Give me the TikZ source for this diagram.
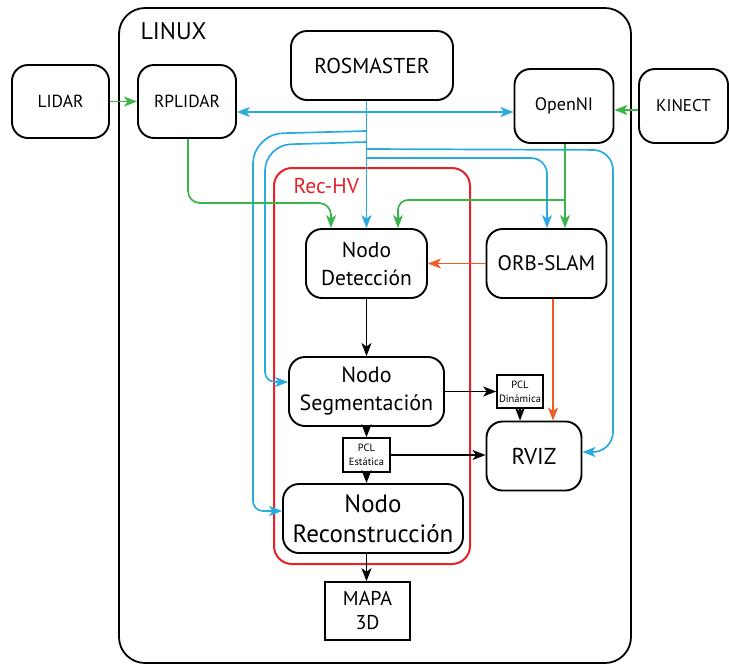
\documentclass[tikz,border=0pt]{standalone}
\usepackage{fontspec}
\setmainfont{PT Sans}
\usetikzlibrary{arrows.meta,calc}
\definecolor{cblue}{RGB}{41,171,226}
\definecolor{cgreen}{RGB}{57,181,74}
\definecolor{corange}{RGB}{241,90,36}
\definecolor{cred}{RGB}{226,35,40}
\begin{document}
\begin{tikzpicture}[x=1pt,y=-1pt,
  box/.style={draw,line width=1.9pt,rounded corners=16pt,align=center,inner sep=0pt},
  sqbox/.style={draw,line width=1.6pt,align=center,inner sep=0pt},
  conn/.style={line width=1.7pt,-{Stealth[length=13pt,width=10pt,inset=3.5pt]}},
  bconn/.style={conn,cblue},
  gconn/.style={conn,cgreen},
  oconn/.style={conn,corange},
  kconn/.style={conn,black}]
\useasboundingbox (0,0) rectangle (729,665);
% containers
\draw[line width=1.8pt,rounded corners=26pt] (119,8) rectangle (631,663);
\node[anchor=west,font=\fontsize{24}{28}\selectfont] (linux) at (137,31) {LINUX};
\draw[cred,line width=2pt,rounded corners=18pt] (274,168) rectangle (470,564);
\node[anchor=west,text=cred,font=\fontsize{21.5}{24}\selectfont] (rechv) at (290,186) {Rec-HV};
% nodes
\node[box,minimum width=97pt,minimum height=73pt,font=\fontsize{17.5}{20}\selectfont] (lidar) at (60.5,101.5) {LIDAR};
\node[box,minimum width=98pt,minimum height=73pt,font=\fontsize{17.5}{20}\selectfont] (rp) at (187,101.5) {RPLIDAR};
\node[box,minimum width=162pt,minimum height=69pt,font=\fontsize{21.5}{24}\selectfont] (ros) at (372,65.5) {ROSMASTER};
\node[box,minimum width=99pt,minimum height=74pt,font=\fontsize{18}{20}\selectfont] (oni) at (564,106) {OpenNI};
\node[box,minimum width=89pt,minimum height=74pt,font=\fontsize{17}{20}\selectfont] (kin) at (683.5,106) {KINECT};
\node[box,minimum width=121pt,minimum height=69pt,font=\fontsize{21.5}{28}\selectfont] (det) at (366.5,263.5) {Nodo\\Detección};
\node[box,minimum width=120pt,minimum height=69pt,font=\fontsize{21}{25}\selectfont] (orb) at (546.5,263.5) {ORB-SLAM};
\node[box,minimum width=155pt,minimum height=69pt,font=\fontsize{22}{28}\selectfont] (seg) at (366.5,391.5) {Nodo\\Segmentación};
\node[sqbox,minimum width=47pt,minimum height=34pt,font=\fontsize{10.5}{14}\selectfont] (pcle) at (366.5,455) {PCL\\Estática};
\node[box,minimum width=180pt,minimum height=69pt,font=\fontsize{25}{30}\selectfont] (rec) at (373,518.5) {Nodo\\Reconstrucción};
\node[sqbox,minimum width=85pt,minimum height=58pt,font=\fontsize{20}{24}\selectfont] (mapa) at (367.5,611) {MAPA\\3D};
\node[sqbox,minimum width=46pt,minimum height=33pt,font=\fontsize{10.5}{14}\selectfont] (pcld) at (520,391.5) {PCL\\Dinámica};
\node[box,minimum width=95pt,minimum height=69pt,font=\fontsize{23}{27}\selectfont] (rviz) at (534,456) {RVIZ};
% blue connectors from ROSMASTER
\coordinate (bx) at (det.north |- ros.south);
\draw[bconn] (bx) -- (det.north);
\draw[cblue,line width=1.7pt,{Stealth[length=13pt,width=10pt,inset=3.5pt]}-{Stealth[length=13pt,width=10pt,inset=3.5pt]}] ([yshift=-10.5pt]rp.east) -- ([yshift=-10.5pt]rp.east -| oni.west);
\draw[bconn,rounded corners=30pt] (det.north |- 0,131) -- (253,134) -- (253,511) [rounded corners=10pt] -- (253,511) -- (rec.west |- 0,511);
\draw[bconn,rounded corners=26pt] (det.north |- 0,142) -- (265,145) -- (265,382) [rounded corners=10pt] -- (265,382) -- (seg.west |- 0,382);
\draw[bconn,rounded corners=20pt] (det.north |- 0,149) -- (613,150) -- (613,452) -- (rviz.east |- 0,452);
\draw[bconn,rounded corners=16pt] (det.north |- 0,158) -- (547,158) -- (orb.north -| 547,0);
% green connectors
\draw[gconn] (lidar.east) -- (rp.west);
\draw[gconn] ([yshift=-4pt]kin.west) -- ([yshift=-4pt]oni.east);
\draw[gconn,rounded corners=12pt] ([xshift=1pt]rp.south) -- (188,203) -- (331,203) -- (det.north -| 331,0);
\draw[gconn] ([xshift=1pt]oni.south) -- ([xshift=1pt]oni.south |- orb.north);
\draw[gconn,rounded corners=10pt] (565,200) -- (398,200) -- (det.north -| 398,0);
% orange connectors
\draw[oconn] (orb.west) -- (det.east);
\draw[oconn] ([xshift=6.5pt]orb.south) -- ([xshift=6.5pt]orb.south |- rviz.north);
% black connectors
\draw[kconn] (det.south) -- (seg.north);
\draw[kconn] (seg.south) -- (pcle.north);
\draw[kconn] (pcle.south) -- (pcle.south |- rec.north);
\draw[kconn] (pcle.south |- rec.south) -- (pcle.south |- mapa.north);
\draw[kconn] (seg.east) -- (seg.east -| pcld.west);
\draw[kconn] (pcld.south) -- (pcld.south |- rviz.north);
\draw[kconn] (pcle.east) -- (pcle.east -| rviz.west);
\end{tikzpicture}
\end{document}
